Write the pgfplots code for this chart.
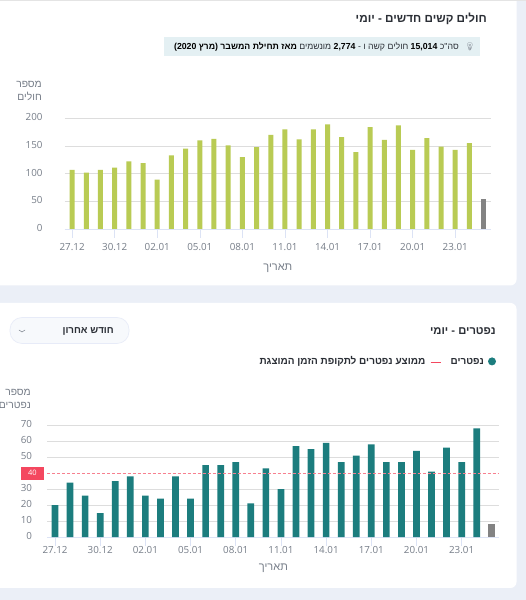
\documentclass[border=0pt]{standalone}
\usepackage{pgfplots}
\pgfplotsset{compat=1.18}
\usepackage{fontspec}
\setmainfont{Open Sans}
\newfontfamily\he[Script=Hebrew]{Liberation Sans}
\newfontfamily\emo{Noto Emoji}
\TeXXeTstate=1
\definecolor{bgc}{HTML}{EBEFF7}
\definecolor{lime}{HTML}{B9CB54}
\definecolor{teal2}{HTML}{1C7D7E}
\definecolor{grayb}{HTML}{838383}
\definecolor{redl}{HTML}{F4475F}
\definecolor{dashc}{HTML}{F7808F}
\definecolor{tickc}{HTML}{767D88}
\definecolor{gridc}{HTML}{DDDDDD}
\definecolor{axc}{HTML}{DCE3F5}
\definecolor{infoc}{HTML}{E4F0F3}
\definecolor{darkt}{HTML}{2B2F36}
\pgfplotstableread{
x y
0 107
1 102
2 107
3 111
4 122
5 119
6 89
7 133
8 145
9 160
10 163
11 151
12 130
13 148
14 170
15 180
16 162
17 180
18 189
19 166
20 139
21 184
22 161
23 187
24 143
25 164
26 149
27 143
28 155
}\severe
\pgfplotstableread{
x y
29 54
}\severelast
\pgfplotstableread{
x y
0 20
1 34
2 26
3 15
4 35
5 38
6 26
7 24
8 38
9 24
10 45
11 45
12 47
13 21
14 43
15 30
16 57
17 55
18 59
19 47
20 51
21 58
22 47
23 47
24 54
25 41
26 56
27 47
28 68
}\deaths
\pgfplotstableread{
x y
29 8
}\deathslast
\pgfplotsset{
  common/.style={
    scale only axis, ybar, bar shift=0pt,
    axis y line*=left, axis x line*=bottom,
    y axis line style={draw=none},
    x axis line style={draw=axc, line width=0.8pt},
    ymajorgrids, grid style={gridc, line width=0.8pt},
    major tick style={draw=axc, line width=0.6pt},
    ytick style={draw=none},
    tick label style={font=\fontsize{9.8}{11}\selectfont, text=tickc},
    /pgf/number format/assume math mode=true,
    xtick={0,3,...,27},
    xticklabels={27.12,30.12,02.01,05.01,08.01,11.01,14.01,17.01,20.01,23.01},
    xmin=-0.5, xmax=29.5, ymin=0,
    clip=false,
    tick align=outside, major tick length=9pt,
    xlabel={\beginR תאריך\endR},
  }
}
\begin{document}
\begin{tikzpicture}
\path[use as bounding box] (0pt,0pt) rectangle (526pt,600pt);
\fill[bgc] (0pt,0pt) rectangle (526pt,600pt);
\begin{scope}[x=1pt,y=1pt,every node/.style={inner sep=0pt}]
\begin{scope}
\clip (0,0) rectangle (526,600);
\fill[white, rounded corners=6pt] (-10,314.5) rectangle (516.5,620);
\fill[gridc!80] (0,599) rectangle (526,600);
\fill[white, rounded corners=6pt] (-10,12) rectangle (516.5,297);
\node[align=right, anchor=east, font=\he\fontsize{10.3}{12.3}\selectfont, text=tickc] at (31,201) {\beginR מספר\endR\\\beginR נפטרים\endR};
\end{scope}
% top card text
\node[anchor=east, font=\he\bfseries\fontsize{11.7}{13}\selectfont, text=darkt] at (487,581.5) {\beginR חולים קשים חדשים - יומי\endR};
\fill[infoc] (164,544) rectangle (480,563);
\node[anchor=east, font=\he\fontsize{8.75}{10}\selectfont, text=tickc] at (459,553.5) {\beginR סה"כ {\bfseries\color{darkt}\beginL 15,014\endL} חולים קשה ו - {\bfseries\color{darkt}\beginL 2,774\endL} מונשמים {\bfseries\color{darkt}מאז תחילת המשבר (מרץ \beginL 2020\endL)}\endR};
\node[font=\emo\fontsize{8}{9}\selectfont, text=tickc] at (470,553.5) {💡};
\node[align=right, anchor=east, font=\he\fontsize{10.3}{12.3}\selectfont, text=tickc] at (42,509) {\beginR מספר\endR\\\beginR חולים\endR};
% lower card text
\node[anchor=east, font=\he\bfseries\fontsize{11.2}{13}\selectfont, text=darkt] at (496,269) {\beginR נפטרים - יומי\endR};
\draw[axc!70, fill=bgc!40, line width=0.6pt, rounded corners=12pt] (10,256.5) rectangle (129,282.5);
\node[anchor=east, font=\he\bfseries\fontsize{9.8}{11}\selectfont, text=darkt] at (114,269) {\beginR חודש אחרון\endR};
\draw[tickc, line width=0.5pt] (19,270) -- (22,268) -- (25,270);
\fill[teal2] (492,238.6) circle (4pt);
\node[anchor=east, font=\he\bfseries\fontsize{9.9}{11}\selectfont, text=darkt] at (484,238.5) {\beginR נפטרים\endR};
\draw[redl, line width=0.9pt] (430.5,238) -- (441,238);
\node[anchor=east, font=\he\bfseries\fontsize{10}{11}\selectfont, text=darkt] at (425.5,238.5) {\beginR ממוצע נפטרים לתקופת הזמן המוצגת\endR};
\end{scope}
% top axis
\begin{axis}[common, anchor=south west, at={(65pt,371pt)}, width=425.7pt, height=110.7pt,
  ymax=200, ytick={0,50,100,150,200}, bar width=5pt,
  xticklabel style={yshift=-2pt},
  yticklabel style={xshift=-10pt, yshift=1pt},
  xlabel style={font=\he\fontsize{11}{12}\selectfont, text=tickc, yshift=-6pt}]
\addplot[fill=lime, draw=none] table {\severe};
\addplot[fill=grayb, draw=none] table {\severelast};
\end{axis}
% bottom axis
\begin{axis}[common, anchor=south west, at={(47.5pt,63pt)}, width=451.8pt, height=111.7pt,
  ymax=70, ytick={0,10,20,30,50,60,70}, bar width=6.7pt,
  xticklabel style={yshift=3pt},
  yticklabel style={xshift=-3pt, yshift=1pt},
  xlabel style={font=\he\fontsize{11}{12}\selectfont, text=tickc, yshift=-3pt}]
\addplot[fill=teal2, draw=none] table {\deaths};
\addplot[fill=grayb, draw=none] table {\deathslast};
\draw[dashc, dash pattern=on 3pt off 2pt, line width=1pt] (axis cs:-0.5,40) -- (axis cs:29.5,40);
\node[fill=redl, text=white, font=\fontsize{7.5}{8}\selectfont, minimum width=22.7pt, minimum height=13.3pt, inner sep=0pt] at (axis cs:-1.51,40) {40};
\end{axis}
\end{tikzpicture}
\end{document}
